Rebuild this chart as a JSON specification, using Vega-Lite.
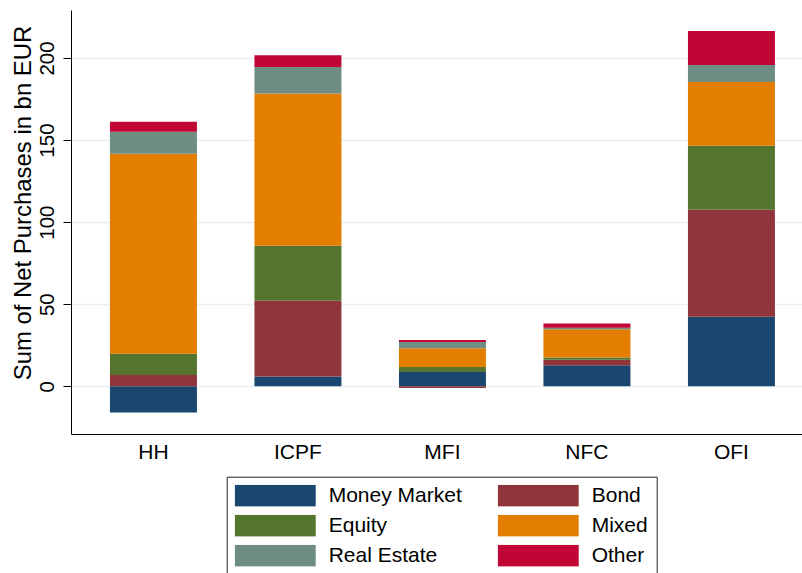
{
  "$schema": "https://vega.github.io/schema/vega-lite/v6.json",
  "width": 731,
  "height": 424,
  "autosize": "none",
  "padding": {"left": 71, "top": 10, "right": 0, "bottom": 139},
  "background": "white",
  "config": {
    "font": "Liberation Sans",
    "view": {"stroke": null},
    "axis": {"labelColor": "black", "titleColor": "black", "domainColor": "black", "tickColor": "black"}
  },
  "data": {
    "values": [
      {"sector": "HH", "type": "Money Market", "o": 1, "value": -16.0},
      {"sector": "HH", "type": "Bond", "o": 2, "value": 6.9},
      {"sector": "HH", "type": "Equity", "o": 3, "value": 12.9},
      {"sector": "HH", "type": "Mixed", "o": 4, "value": 121.8},
      {"sector": "HH", "type": "Real Estate", "o": 5, "value": 13.4},
      {"sector": "HH", "type": "Other", "o": 6, "value": 6.1},
      {"sector": "ICPF", "type": "Money Market", "o": 1, "value": 5.9},
      {"sector": "ICPF", "type": "Bond", "o": 2, "value": 46.2},
      {"sector": "ICPF", "type": "Equity", "o": 3, "value": 33.5},
      {"sector": "ICPF", "type": "Mixed", "o": 4, "value": 92.7},
      {"sector": "ICPF", "type": "Real Estate", "o": 5, "value": 16.2},
      {"sector": "ICPF", "type": "Other", "o": 6, "value": 7.1},
      {"sector": "MFI", "type": "Money Market", "o": 1, "value": 8.7},
      {"sector": "MFI", "type": "Bond", "o": 2, "value": -1.0},
      {"sector": "MFI", "type": "Equity", "o": 3, "value": 3.1},
      {"sector": "MFI", "type": "Mixed", "o": 4, "value": 11.3},
      {"sector": "MFI", "type": "Real Estate", "o": 5, "value": 3.9},
      {"sector": "MFI", "type": "Other", "o": 6, "value": 1.2},
      {"sector": "NFC", "type": "Money Market", "o": 1, "value": 12.8},
      {"sector": "NFC", "type": "Bond", "o": 2, "value": 3.4},
      {"sector": "NFC", "type": "Equity", "o": 3, "value": 1.4},
      {"sector": "NFC", "type": "Mixed", "o": 4, "value": 17.1},
      {"sector": "NFC", "type": "Real Estate", "o": 5, "value": 1.0},
      {"sector": "NFC", "type": "Other", "o": 6, "value": 2.5},
      {"sector": "OFI", "type": "Money Market", "o": 1, "value": 42.4},
      {"sector": "OFI", "type": "Bond", "o": 2, "value": 65.1},
      {"sector": "OFI", "type": "Equity", "o": 3, "value": 39.0},
      {"sector": "OFI", "type": "Mixed", "o": 4, "value": 38.9},
      {"sector": "OFI", "type": "Real Estate", "o": 5, "value": 10.3},
      {"sector": "OFI", "type": "Other", "o": 6, "value": 20.7}
    ]
  },
  "mark": {"type": "bar", "strokeWidth": 0},
  "encoding": {
    "x": {
      "field": "sector",
      "type": "nominal",
      "sort": ["HH", "ICPF", "MFI", "NFC", "OFI"],
      "scale": {"paddingInner": 0.398, "paddingOuter": 0.2284, "align": 0.59},
      "axis": {
        "title": null,
        "labelAngle": 0,
        "labelFontSize": 21,
        "labelPadding": 7,
        "ticks": false,
        "tickSize": 0,
        "domainWidth": 1,
        "grid": false
      }
    },
    "y": {
      "field": "value",
      "type": "quantitative",
      "stack": "zero",
      "scale": {"domain": [-29.06, 229.2], "nice": false, "zero": false},
      "axis": {
        "values": [0, 50, 100, 150, 200],
        "title": "Sum of Net Purchases in bn EUR",
        "titleFontSize": 23.9,
        "titleFontWeight": "normal",
        "titleX": -36,
        "titleY": 192.5,
        "titleAngle": -90,
        "titleAlign": "center",
        "titleBaseline": "bottom",
        "labelAngle": -90,
        "labelAlign": "center",
        "labelBaseline": "bottom",
        "labelFontSize": 20.5,
        "labelPadding": 6,
        "tickSize": 8,
        "tickWidth": 1,
        "domainWidth": 1,
        "grid": true,
        "gridColor": "#e9f0f2",
        "gridWidth": 1.5
      }
    },
    "color": {
      "field": "type",
      "type": "nominal",
      "scale": {
        "domain": ["Money Market", "Bond", "Equity", "Mixed", "Real Estate", "Other"],
        "range": ["#1a476f", "#90353b", "#55752f", "#e37e00", "#6e8e84", "#c10534"]
      },
      "legend": {
        "title": null,
        "orient": "none",
        "direction": "horizontal",
        "legendX": 155.7,
        "legendY": 466.7,
        "columns": 2,
        "columnPadding": 35,
        "rowPadding": 8,
        "padding": 8,
        "strokeColor": "#222222",
        "symbolType": "M-1,-0.268H1V0.268H-1Z",
        "symbolSize": 6561,
        "symbolStrokeWidth": 0,
        "symbolOpacity": 1,
        "labelFontSize": 21,
        "labelColor": "black",
        "labelOffset": 13,
        "labelLimit": 300,
        "clipHeight": 22
      }
    },
    "order": {"field": "o", "type": "quantitative"}
  }
}
